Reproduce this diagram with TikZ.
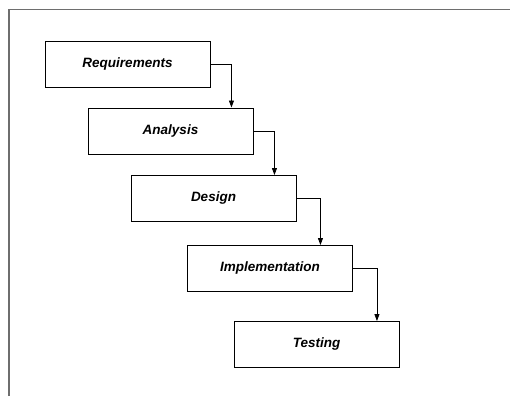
\documentclass[tikz,border=0pt]{standalone}
\usepackage{fontspec}
\setsansfont{Liberation Sans}
\definecolor{FrameGray}{RGB}{110, 110, 110}
\usetikzlibrary{arrows.meta, positioning, calc}

\tikzset{
  phase/.style={draw, line width=0.9pt, minimum width=165pt, minimum height=46pt,
    inner sep=0pt, font=\sffamily\bfseries\itshape\fontsize{13.5}{15}\selectfont},
  flow/.style={-{Triangle[length=7pt, width=5pt]}, line width=0.8pt}
}

\begin{document}
\begin{tikzpicture}[x=1pt, y=-1pt]
        \useasboundingbox (0, 0) rectangle (510, 396);
        \draw[FrameGray, line width=1.2pt] (9, 396) -- (9, 9.5) -- (510, 9.5);

        \node[phase] (req) at (127.5, 64) {Requirements};
        \node[phase] (ana) at (170.5, 131) {Analysis};
        \node[phase] (des) at (213.5, 198.5) {Design};
        \node[phase] (imp) at (270, 268.5) {Implementation};
        \node[phase] (tst) at (316.5, 344.5) {Testing};

        \foreach \a/\b/\d in {req/ana/21, ana/des/21, des/imp/24, imp/tst/24}
          \draw[flow] (\a.east) -| ([xshift=\d pt]\a.east |- \b.north);
    \end{tikzpicture}
\end{document}
